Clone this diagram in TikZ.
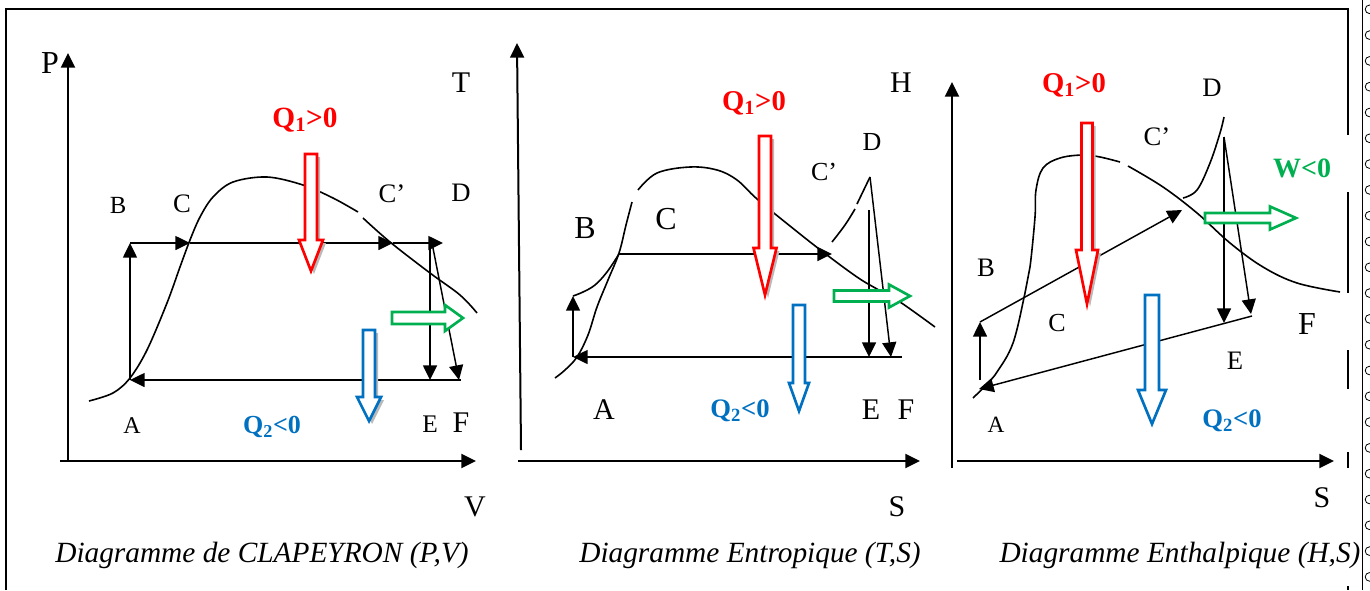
\documentclass[tikz,border=0pt]{standalone}
\usepackage{fontspec}
\setmainfont{Liberation Serif}
\usetikzlibrary{arrows.meta}
\definecolor{qred}{RGB}{255,0,0}
\definecolor{qblue}{RGB}{0,112,192}
\definecolor{qgreen}{RGB}{0,176,80}
\tikzset{
 ax/.style={line width=1.5pt,-{Triangle[length=11pt,width=10.5pt]}},
 cyc/.style={line width=1.1pt,-{Triangle[length=11pt,width=10.5pt]}},
 crv/.style={line width=1.2pt},
 lbl/.style={inner sep=0pt, font=\fontsize{#1}{#1}\selectfont},
 qlbl/.style={inner sep=0pt, anchor=base, font=\bfseries\fontsize{#1}{#1}\selectfont},
 captxt/.style={inner sep=0pt, anchor=base, font=\itshape\fontsize{22}{22}\selectfont},
 frm/.style={line width=1.5pt},
}
\newcommand\hdown[8]{%
 \ifnum#8=1 \fill[gray!55,shift={(3,3)}] ({#2-#4},#3) -- ({#2+#4},#3) -- ({#2+#4},#5) -- ({#2+#6},#5) -- (#2,#7) -- ({#2-#6},#5) -- ({#2-#4},#5) -- cycle;\fi
 \draw[#1,line width=2pt,fill=white,line join=miter] ({#2-#4},#3) -- ({#2+#4},#3) -- ({#2+#4},#5) -- ({#2+#6},#5) -- (#2,#7) -- ({#2-#6},#5) -- ({#2-#4},#5) -- cycle;}
\newcommand\hright[7]{%
 \draw[#1,line width=2pt,fill=white,line join=miter] (#2,{#3-#4}) -- (#5,{#3-#4}) -- (#5,{#3-#6}) -- (#7,#3) -- (#5,{#3+#6}) -- (#5,{#3+#4}) -- (#2,{#3+#4}) -- cycle;}
\begin{document}
\begin{tikzpicture}[x=0.75pt,y=-0.75pt]
\useasboundingbox (0,0) rectangle (1370,590);
% frame
\draw[frm] (6,590) -- (6,9) -- (1348,9) -- (1348,135);
\draw[frm] (1348,192) -- (1348,293);
\draw[frm] (1348,350) -- (1348,389);
\draw[frm] (1348,452) -- (1348,468);
\draw[frm] (1348,586) -- (1348,590);
\draw[line width=0.7pt] (1362,0) -- (1362,590);
\begin{scope}
\clip (0,0) rectangle (1370,590);
\foreach \k in {0,...,22} \draw[line width=0.6pt] (1369.5,{9.3+25.8*\k}) circle[radius=4.3];
\end{scope}

% ===== Diagram 1 =====
\draw[ax] (68,461) -- (68,53);
\draw[ax] (60,461) -- (476,461);
\coordinate (A1) at (130,380);
\coordinate (B1) at (130,243);
\coordinate (C1) at (190,243);
\coordinate (Cp1) at (393,243);
\coordinate (D1) at (443,243);
\coordinate (Dv1) at (430,243);
\coordinate (Dd1) at (432,243);
\coordinate (E1) at (430,380);
\coordinate (F1) at (459,380);
\coordinate (Fe1) at (461,380);
\draw[crv] plot[smooth,tension=0.55] coordinates {(89,401) (113,393) (130,378) (147,350) (167,303) (180,267) (190,240) (200,217) (213,197) (233,182) (267,177) (303,185) (333,198) (358,212)};
\draw[crv] plot[smooth,tension=0.6] coordinates {(363,218) (390,242) (430,273) (460,295) (477,313)};
\draw[cyc] (A1) -- (B1);
\draw[cyc] (B1) -- (C1);
\draw[cyc] (C1) -- (Cp1);
\draw[cyc] (Cp1) -- (D1);
\draw[cyc] (Dv1) -- (E1);
\draw[cyc] (Dd1) -- (F1);
\draw[cyc] (Fe1) -- (A1);
\hdown{qred}{311}{154}{6}{240}{12}{271}{1}
\hdown{qblue}{369}{330}{6}{397}{12}{421}{1}
\hright{qgreen}{392}{318}{6}{445}{13}{463}
\node[lbl=24] (P1) at (50,63) {P};
\node[lbl=22.5] (T1) at (461,83) {T};
\node[lbl=18.5] (lB1) at (118,205) {B};
\node[lbl=20] (lC1) at (182,204) {C};
\node[lbl=20] (lCp1) at (392,194) {C'};
\node[lbl=20] (lD1) at (461,193) {D};
\node[lbl=18] (lA1) at (132,426) {A};
\node[lbl=19] (lE1) at (430,424) {E};
\node[lbl=22.5] (lF1) at (461,423) {F};
\node[lbl=22.5] (V1) at (475,507) {V};
\node[qlbl=22,text=qred] (Q11) at (305,127) {Q\textsubscript{1}>0};
\node[qlbl=19.5,text=qblue] (Q21) at (272,433) {Q\textsubscript{2}<0};
\node[captxt] (cap1) at (262,562) {Diagramme de CLAPEYRON (P,V)};

% ===== Diagram 2 =====
\draw[ax] (521,450) -- (517,43);
\draw[ax] (518,461) -- (920,461);
\coordinate (A2) at (573,357);
\coordinate (B2) at (573,296);
\coordinate (C2) at (619,254);
\coordinate (Cp2) at (832,254);
\coordinate (D2) at (870,177);
\coordinate (Dv2) at (869,210);
\coordinate (E2) at (869,357);
\coordinate (F2) at (891,357);
\coordinate (Fe2) at (902,357);
\draw[crv] plot[smooth,tension=0.6] coordinates {(555,378) (565,370) (577,357) (588,335) (597,307) (608,280) (619,253) (626,225) (632,202)};
\draw[crv] plot[smooth,tension=0.6] coordinates {(638,190) (657,173) (690,167) (717,170) (737,180) (757,199) (790,226) (823,252) (857,277) (877,289) (900,302) (935,327)};
\draw[crv] plot[smooth,tension=0.6] coordinates {(B2) (583,292) (595,285) (607,272) (C2)};
\draw[crv] plot[smooth,tension=0.6] coordinates {(832,242) (845,225) (855,209)};
\draw[crv] (857,204) -- (D2);
\draw[cyc] (A2) -- (B2);
\draw[cyc] (C2) -- (Cp2);
\draw[cyc] (Dv2) -- (E2);
\draw[cyc] (D2) -- (F2);
\draw[cyc] (Fe2) -- (A2);
\hdown{qred}{765}{136}{6}{248}{11.5}{295}{1}
\hdown{qblue}{799}{305}{6}{383}{10}{411}{0}
\hright{qgreen}{834}{296}{5.5}{889}{11.5}{910}
\node[lbl=24] (lB2) at (585,228) {B};
\node[lbl=24] (lC2) at (666,219) {C};
\node[lbl=19.5] (lCp2) at (824,172) {C'};
\node[lbl=19.5] (lD2) at (872,142) {D};
\node[lbl=22.5] (lA2) at (604,410) {A};
\node[lbl=22.5] (lE2) at (871,410) {E};
\node[lbl=22.5] (lF2) at (906,410) {F};
\node[lbl=22.5] (S2) at (897,507) {S};
\node[lbl=22.5] (H2) at (901,83) {H};
\node[qlbl=21.5,text=qred] (Q12) at (754,110) {Q\textsubscript{1}>0};
\node[qlbl=20,text=qblue] (Q22) at (740,417) {Q\textsubscript{2}<0};
\node[captxt] (cap2) at (750,562) {Diagramme Entropique (T,S)};

% ===== Diagram 3 =====
\draw[ax] (952,468) -- (952,82);
\draw[ax] (957,461) -- (1334,461);
\coordinate (A3) at (979,389);
\coordinate (Av3) at (980,380);
\coordinate (B3) at (980,322);
\coordinate (Cp3) at (1182,210);
\coordinate (D3) at (1224,137);
\coordinate (E3) at (1224,323);
\coordinate (F3) at (1251,314);
\coordinate (Fe3) at (1252,316);
\draw[crv] plot[smooth,tension=0.6] coordinates {(973,398) (985,386) (997,372) (1013,343) (1025,293) (1030,267) (1035,217) (1036,190) (1043,168) (1060,158) (1083,155) (1100,157) (1120,162)};
\draw[crv] plot[smooth,tension=0.6] coordinates {(1128,166) (1163,187) (1197,213) (1230,243) (1263,267) (1297,283) (1340,292)};
\draw[crv] plot[smooth,tension=0.6] coordinates {(1183,198) (1197,190) (1210,163) (1220,133) (1224,117)};
\draw[cyc] (Av3) -- (B3);
\draw[cyc] (B3) -- (Cp3);
\draw[cyc] (D3) -- (E3);
\draw[cyc] (D3) -- (F3);
\draw[cyc] (Fe3) -- (A3);
\hdown{qred}{1087}{123}{5.5}{250}{11}{304}{1}
\hdown{qblue}{1152}{295}{7}{390}{14}{424}{0}
\hright{qgreen}{1205}{218}{5}{1270}{11.5}{1296}
\node[lbl=20] (lD3) at (1212,88) {D};
\node[lbl=20] (lCp3) at (1157,137) {C'};
\node[lbl=20] (lB3) at (986,268) {B};
\node[lbl=19.5] (lC3) at (1057,323) {C};
\node[lbl=24] (lF3) at (1307,324) {F};
\node[lbl=20] (lE3) at (1235,361) {E};
\node[lbl=17.5] (lA3) at (996,425) {A};
\node[lbl=22.5] (S3) at (1322,498) {S};
\node[qlbl=21.5,text=qred] (Q13) at (1074,92) {Q\textsubscript{1}>0};
\node[qlbl=20,text=qblue] (Q23) at (1232,427) {Q\textsubscript{2}<0};
\node[qlbl=21,text=qgreen] (W3) at (1302,177) {W<0};
\node[captxt] (cap3) at (1180,562) {Diagramme Enthalpique (H,S)};
\end{tikzpicture}
\end{document}
